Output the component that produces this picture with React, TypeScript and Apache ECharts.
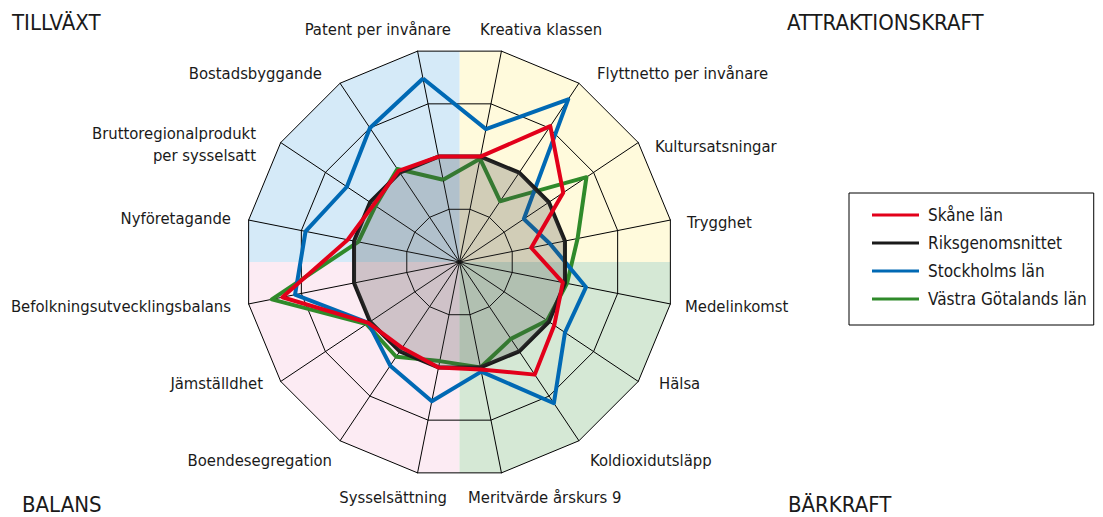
import React, { useEffect, useRef } from 'react';
import * as echarts from 'echarts';

// ---- data ----
const indicators = [
  'Patent per invånare',
  'Bostadsbyggande',
  'Bruttoregionalprodukt\nper sysselsatt',
  'Nyföretagande',
  'Befolkningsutvecklingsbalans',
  'Jämställdhet',
  'Boendesegregation',
  'Sysselsättning',
  'Meritvärde årskurs 9',
  'Koldioxidutsläpp',
  'Hälsa',
  'Medelinkomst',
  'Trygghet',
  'Kultursatsningar',
  'Flyttnetto per invånare',
  'Kreativa klassen',
];
const seriesNames = ['Skåne län', 'Riksgenomsnittet', 'Stockholms län', 'Västra Götalands län'];
const skane = [50, 51, 48, 53, 84, 51, 48, 50, 51, 63, 53, 49, 34, 58, 76, 50];
const riks = [50, 50, 50, 50, 50, 50, 50, 50, 50, 50, 50, 50, 50, 50, 50, 50];
const stockholm = [87, 75, 63, 73, 78, 51, 58, 66, 52, 79, 59, 60, 43, 36, 91, 63];
const vastraGotaland = [39, 52, 47, 48, 89, 52, 53, 47, 50, 43, 49, 51, 56, 71, 34, 49];
const quadrantTitles = ['TILLVÄXT', 'ATTRAKTIONSKRAFT', 'BALANS', 'BÄRKRAFT'];

// ---- layout ----
const FONT = "'DejaVu Sans Condensed', 'Liberation Sans', sans-serif";
const CX = 459.5;
const CY = 262;
const R = 215;
const START = 101.25;
// label anchor positions [x, y, align]
const labelPos: [number, number, string][] = [
  [451, 29, 'right'],
  [322, 73, 'right'],
  [256, 144, 'right'],
  [231, 218, 'right'],
  [231, 306, 'right'],
  [263, 383, 'right'],
  [332, 460, 'right'],
  [447, 497, 'right'],
  [468, 497, 'left'],
  [590, 460, 'left'],
  [659, 383, 'left'],
  [685, 306, 'left'],
  [687, 222, 'left'],
  [655, 146, 'left'],
  [597, 73, 'left'],
  [480, 29, 'left'],
];
const titlePos: [number, number][] = [
  [12, 22],
  [787, 22],
  [22, 504],
  [788, 504],
];
const COLORS = {
  skane: '#e2001a',
  riks: '#1a1a1a',
  sthlm: '#0069b4',
  vg: '#2f8a2a',
};
const QUAD_COLORS = ['#fffadc', '#d5eaf8', '#fcebf3', '#d5e8d5'];

function pt(angleDeg: number, r: number): number[] {
  const a = (angleDeg * Math.PI) / 180;
  return [CX + r * Math.cos(a), CY - r * Math.sin(a)];
}

export default function App() {
  const ref = useRef<HTMLDivElement>(null);
  useEffect(() => {
    if (!ref.current) return;
    const chart = echarts.init(ref.current, undefined, { renderer: 'svg' });
    const rMid = R * Math.cos(Math.PI / 16);
    const quads = [0, 90, 180, 270].map((a0, i) => ({
      type: 'polygon',
      z: -10,
      silent: true,
      shape: {
        points: [
          [CX, CY],
          pt(a0, rMid),
          pt(a0 + 11.25, R),
          pt(a0 + 33.75, R),
          pt(a0 + 56.25, R),
          pt(a0 + 78.75, R),
          pt(a0 + 90, rMid),
        ],
      },
      style: { fill: QUAD_COLORS[i], stroke: 'none' },
    }));
    const labels = indicators.map((name, i) => ({
      type: 'text',
      z: 10,
      x: labelPos[i][0],
      y: labelPos[i][1],
      style: {
        text: name,
        fill: '#1a1a1a',
        font: `16.5px ${FONT}`,
        align: labelPos[i][2],
        verticalAlign: 'middle',
        lineHeight: 22,
      },
    }));
    const titles = quadrantTitles.map((t, i) => ({
      type: 'text',
      z: 10,
      x: titlePos[i][0],
      y: titlePos[i][1],
      style: {
        text: t,
        fill: '#1a1a1a',
        font: `22px ${FONT}`,
        lineHeight: 22,
        align: 'left',
        verticalAlign: 'middle',
      },
    }));
    const mk = (name: string, values: number[], color: string, z: number, area?: boolean) => ({
      type: 'radar',
      name,
      z,
      symbol: 'none',
      silent: true,
      lineStyle: { color, width: 4 },
      itemStyle: { color },
      areaStyle: area ? { color: 'rgba(70,70,70,0.36)' } : undefined,
      data: [{ value: values, name }],
    });
    chart.setOption({
      animation: false,
      textStyle: { fontFamily: FONT },
      graphic: [...quads, ...labels, ...titles],
      legend: {
        data: [
          { name: seriesNames[0], itemStyle: { color: COLORS.skane } },
          { name: seriesNames[1], itemStyle: { color: COLORS.riks } },
          { name: seriesNames[2], itemStyle: { color: COLORS.sthlm } },
          { name: seriesNames[3], itemStyle: { color: COLORS.vg } },
        ],
        orient: 'vertical',
        left: 849,
        top: 193,
        icon: 'rect',
        itemWidth: 47,
        itemHeight: 3,
        itemGap: 8,
        selectedMode: false,
        borderColor: '#000',
        borderWidth: 1,
        padding: [12, 7, 16, 23],
        textStyle: {
          color: '#1a1a1a',
          fontSize: 17,
          fontFamily: FONT,
          lineHeight: 20,
          padding: [0, 0, 0, 4],
        },
      },
      radar: {
        center: [CX, CY],
        radius: R,
        startAngle: START,
        shape: 'polygon',
        splitNumber: 4,
        indicator: indicators.map((name) => ({ name, min: 0, max: 100 })),
        axisName: { show: false },
        axisLine: { lineStyle: { color: '#000', width: 1 } },
        splitLine: { lineStyle: { color: '#000', width: 1 } },
        splitArea: { show: false },
        axisTick: { show: false },
        axisLabel: { show: false },
      },
      series: [
        mk(seriesNames[3], vastraGotaland, COLORS.vg, 2),
        mk(seriesNames[2], stockholm, COLORS.sthlm, 3),
        mk(seriesNames[1], riks, COLORS.riks, 4, true),
        mk(seriesNames[0], skane, COLORS.skane, 5),
      ],
    });
    return () => chart.dispose();
  }, []);
  return (
    <div
      ref={ref}
      style={{ position: 'fixed', left: 0, top: 0, width: 1103, height: 517, background: '#fff' }}
    />
  );
}
